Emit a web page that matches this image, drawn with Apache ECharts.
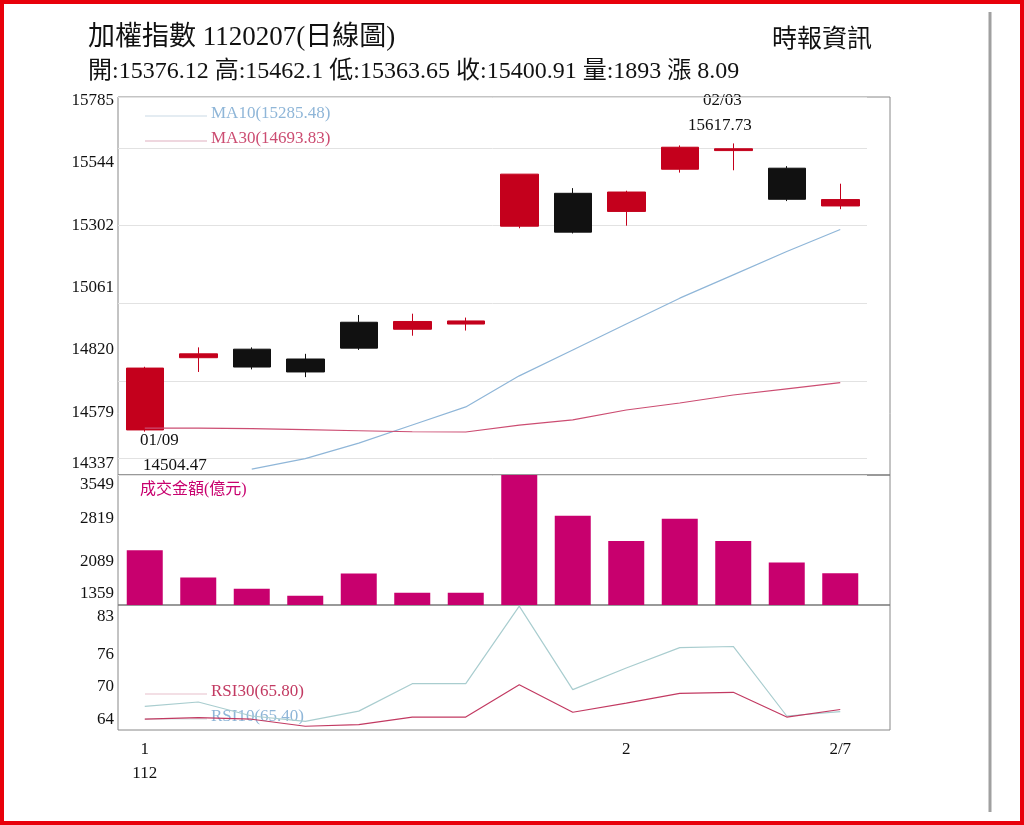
<!DOCTYPE html>
<html><head><meta charset="utf-8">
<script src="https://cdn.jsdelivr.net/npm/echarts@6/dist/echarts.min.js"></script>
<style>html,body{margin:0;background:#fff}#chart{width:1024px;height:825px}</style>
</head><body><div id="chart"></div>
<script>
let days = ["1/9","1/10","1/11","1/12","1/13","1/16","1/17","1/30","1/31","2/1","2/2","2/3","2/6","2/7"];
let dayLabels = ["1\n112","","","","","","","","","2","","","","2/7"];
// open, close, low, high
let candles = [
	[14511, 14750, 14504.47, 14755],
	[14790, 14805, 14735, 14830],
	[14823, 14754, 14745, 14830],
	[14785, 14735, 14715, 14805],
	[14927, 14827, 14820, 14955],
	[14900, 14930, 14875, 14960],
	[14920, 14932, 14895, 14945],
	[15298, 15499, 15290, 15499],
	[15425, 15275, 15270, 15445],
	[15355, 15430, 15300, 15435],
	[15518, 15603, 15505, 15610],
	[15590, 15597, 15514, 15617.73],
	[15522, 15402, 15395, 15530],
	[15376.12, 15400.91, 15363.65, 15462.1]
];
let ma10 = [null, null, 14360, 14400, 14460, 14530, 14600, 14720, 14820, 14920, 15020, 15110, 15200, 15285.48];
let ma30 = [14518, 14518, 14516, 14512, 14508, 14504, 14503, 14530, 14550, 14588, 14615, 14646, 14670, 14693.83];
let volume = [2282, 1821, 1633, 1513, 1889, 1564, 1564, 3549, 2864, 2437, 2813, 2437, 2077, 1893];
let rsi10 = [66.4, 67.2, 64.6, 63.6, 65.5, 70.6, 70.6, 85, 69.5, 73.5, 77.3, 77.5, 64.6, 65.40];
let rsi30 = [64.0, 64.3, 64.0, 62.7, 63.0, 64.4, 64.4, 70.4, 65.3, 67.0, 68.8, 69.0, 64.4, 65.80];
let priceTicks = [14337, 14579, 14820, 15061, 15302, 15544, 15785];
let volumeTicks = [1359, 2089, 2819, 3549];
let rsiTicks = [64, 70, 76, 83];

let font = "Liberation Serif, Noto Sans CJK TC";
let red = "#c4001c", black = "#111", blue = "#8fb6d8", pink = "#cc4d72";
let gridLeft = 118, gridW = 749;

let chart = echarts.init(document.getElementById("chart"));

// labels at a panel edge are nudged inside the panel
function yAxis(gi, min, max, ticks, split, up, down) {
	return {
		gridIndex: gi, type: "value", min: min, max: max,
		axisLine: {show: false}, axisTick: {show: false},
		axisLabel: {customValues: ticks, color: "#111", fontFamily: font, fontSize: 17, margin: 4,
			formatter: v => v == up ? "{up|" + v + "}" : v == down ? "{down|" + v + "}" : String(v),
			rich: {up: {padding: [0, 0, 22, 0], fontFamily: font, fontSize: 17}, down: {padding: [20, 0, 0, 0], fontFamily: font, fontSize: 17}}},
		splitLine: {show: split, lineStyle: {color: "#e2e2e2"}}
	};
}
function xAxis(gi, labels) {
	return {
		gridIndex: gi, type: "category", data: days, boundaryGap: true,
		axisLine: {show: false}, axisTick: {show: false},
		axisLabel: labels ? {interval: 0, formatter: (v, i) => dayLabels[i], color: "#111",
			fontFamily: font, fontSize: 17, lineHeight: 24, margin: 8} : {show: false}
	};
}
function text(x, y, s, color, size) {
	return {type: "text", left: x, top: y, style: {text: s, fill: color || "#111",
		font: (size || 17) + "px " + font}};
}
function legendLine(y, color) {
	return {type: "line", shape: {x1: 145, y1: y, x2: 207, y2: y}, style: {stroke: color, lineWidth: 1.2}};
}

chart.setOption({
	animation: false,
	grid: [
		{left: gridLeft, top: 97, width: gridW, height: 378},
		{left: gridLeft, top: 475, width: gridW, height: 130},
		{left: gridLeft, top: 605, width: gridW, height: 125}
	],
	xAxis: [xAxis(0), xAxis(1), xAxis(2, true)],
	yAxis: [
		yAxis(0, 14337, 15797, priceTicks, true, 14337, null),
		yAxis(1, 1359, 3549, volumeTicks, false, 1359, 3549),
		yAxis(2, 62, 85.2, rsiTicks, false, null, null)
	],
	series: [
		{type: "candlestick", xAxisIndex: 0, yAxisIndex: 0, barWidth: 38,
			data: candles.map(c => [c[0], c[1], c[2], c[3]]),
			itemStyle: {color: red, color0: black, borderColor: red, borderColor0: black, borderWidth: 1}},
		{type: "line", xAxisIndex: 0, yAxisIndex: 0, data: ma10, symbol: "none", lineStyle: {color: blue, width: 1.2}},
		{type: "line", xAxisIndex: 0, yAxisIndex: 0, data: ma30, symbol: "none", lineStyle: {color: pink, width: 1.2}},
		{type: "bar", xAxisIndex: 1, yAxisIndex: 1, data: volume, barWidth: 36, itemStyle: {color: "#c8006e"}},
		{type: "line", xAxisIndex: 2, yAxisIndex: 2, data: rsi10, symbol: "none", lineStyle: {color: "#a9cdcf", width: 1.2}},
		{type: "line", xAxisIndex: 2, yAxisIndex: 2, data: rsi30, symbol: "none", lineStyle: {color: "#c23a62", width: 1.2}}
	],
	graphic: [
		{type: "rect", shape: {x: 2, y: 2, width: 1020, height: 821}, style: {fill: "none", stroke: "#e8000a", lineWidth: 4}},
		{type: "line", shape: {x1: 990, y1: 12, x2: 990, y2: 812}, style: {stroke: "#a0a0a0", lineWidth: 3}},
		{type: "rect", shape: {x: gridLeft, y: 97, width: 772, height: 633}, style: {fill: "none", stroke: "#888", lineWidth: 1}},
		{type: "line", shape: {x1: gridLeft, y1: 475, x2: 890, y2: 475}, style: {stroke: "#777", lineWidth: 1.5}},
		{type: "line", shape: {x1: gridLeft, y1: 605, x2: 890, y2: 605}, style: {stroke: "#777", lineWidth: 1.5}},
		text(88, 24, "加權指數 1120207(日線圖)", "#111", 27),
		text(772, 28, "時報資訊", "#111", 25),
		text(88, 60, "開:15376.12 高:15462.1 低:15363.65 收:15400.91 量:1893 漲 8.09", "#111", 24),
		legendLine(116, "#c9d9e6"), text(211, 105, "MA10(15285.48)", blue, 17),
		legendLine(141, "#e0b0c0"), text(211, 130, "MA30(14693.83)", pink, 17),
		text(140, 432, "01/09", "#111", 17), text(143, 457, "14504.47", "#111", 17),
		text(703, 92, "02/03", "#111", 17), text(688, 117, "15617.73", "#111", 17),
		text(140, 482, "成交金額(億元)", "#c8006e", 16),
		legendLine(694, "#e8c0cc"), text(211, 683, "RSI30(65.80)", "#c23a62", 17),
		legendLine(719, "#cfe0e0"), text(211, 708, "RSI10(65.40)", "#8fb6d8", 17)
	]
});
</script>
</body></html>
